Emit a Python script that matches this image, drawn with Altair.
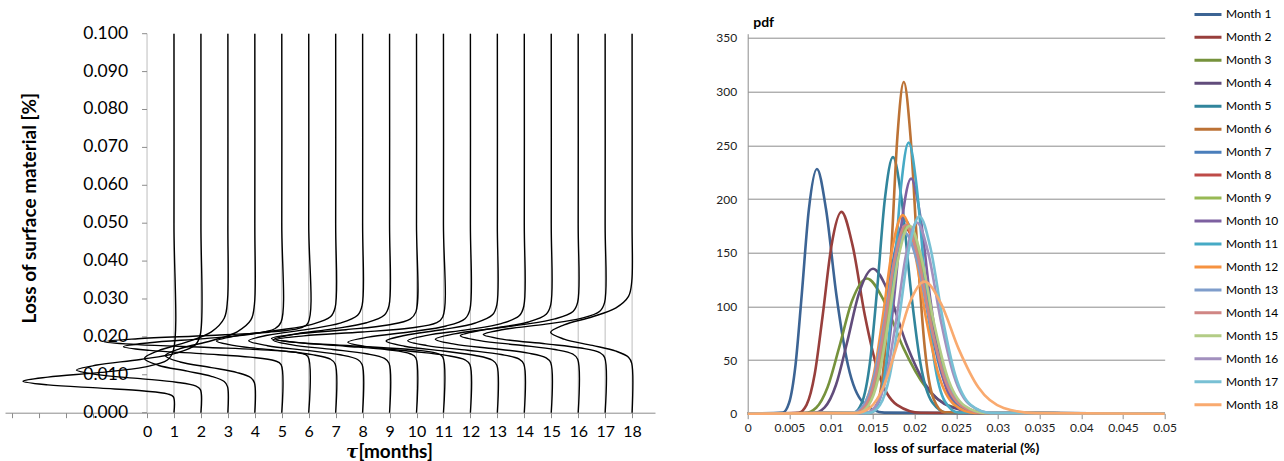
import altair as alt
import pandas as pd

month_names = ["Month 1", "Month 2", "Month 3", "Month 4", "Month 5", "Month 6",
               "Month 7", "Month 8", "Month 9", "Month 10", "Month 11", "Month 12",
               "Month 13", "Month 14", "Month 15", "Month 16", "Month 17", "Month 18"]
month_index = [1, 2, 3, 4, 5, 6, 7, 8, 9, 10, 11, 12, 13, 14, 15, 16, 17, 18]

colors = ["#3C6494", "#983F3C", "#76923C", "#614C7B", "#31859C", "#BC7235",
          "#4A7EBB", "#BE4B48", "#98B954", "#7D60A0", "#46AAC5", "#F69240",
          "#7F9DCB", "#D08684", "#B3CC86", "#A290BE", "#78C0D4", "#F9AA6F"]

# pdf curves: loss of surface material (%) and pdf value
loss_m1 = [0.0, 0.004206, 0.004959, 0.005729, 0.006482, 0.007335, 0.0083, 0.009392, 0.010627, 0.012026, 0.013891, 0.016380, 0.05, 0.1]
pdf_m1 = [0, 0.98, 10.0, 45.1, 111.0, 190.4, 228, 190.4, 111.0, 45.1, 10.0, 0.98, 0, 0]
loss_m2 = [0.0, 0.006084, 0.007060, 0.008042, 0.008991, 0.010053, 0.01124, 0.012567, 0.014051, 0.015710, 0.017894, 0.020766, 0.05, 0.1]
pdf_m2 = [0, 0.81, 8.25, 37.2, 91.5, 157.0, 188, 157.0, 91.5, 37.2, 8.25, 0.81, 0, 0]
loss_m3 = [0.0, 0.006874, 0.008210, 0.009590, 0.010955, 0.012517, 0.0143, 0.016338, 0.018666, 0.021324, 0.024909, 0.029751, 0.05, 0.1]
pdf_m3 = [0, 0.54, 5.53, 24.9, 61.3, 105.2, 126, 105.2, 61.3, 24.9, 5.53, 0.54, 0, 0]
loss_m4 = [0.0, 0.007897, 0.009231, 0.010581, 0.011895, 0.013371, 0.01503, 0.016895, 0.018992, 0.021350, 0.024472, 0.028605, 0.05, 0.1]
pdf_m4 = [0, 0.58, 5.93, 26.7, 65.7, 112.8, 135, 112.8, 65.7, 26.7, 5.93, 0.58, 0, 0]
loss_m5 = [0.0, 0.012690, 0.013703, 0.014655, 0.015525, 0.016444, 0.01742, 0.018453, 0.019547, 0.020705, 0.022144, 0.023912, 0.05, 0.1]
pdf_m5 = [0, 1.03, 10.5, 47.3, 116.3, 199.6, 239, 199.6, 116.3, 47.3, 10.5, 1.03, 0, 0]
loss_m6 = [0.0, 0.014858, 0.015715, 0.016504, 0.017211, 0.017951, 0.01872, 0.019523, 0.020360, 0.021234, 0.022299, 0.023585, 0.05, 0.1]
pdf_m6 = [0, 1.33, 13.6, 61.2, 150.4, 258.1, 309, 258.1, 150.4, 61.2, 13.6, 1.33, 0, 0]
loss_m7 = [0.0, 0.012867, 0.014124, 0.015324, 0.016434, 0.017624, 0.0189, 0.020268, 0.021735, 0.023309, 0.025290, 0.027760, 0.05, 0.1]
pdf_m7 = [0, 0.77, 7.90, 35.6, 87.6, 150.4, 180, 150.4, 87.6, 35.6, 7.90, 0.77, 0, 0]
loss_m8 = [0.0, 0.012745, 0.014041, 0.015282, 0.016431, 0.017670, 0.0190, 0.020431, 0.021970, 0.023623, 0.025711, 0.028325, 0.05, 0.1]
pdf_m8 = [0, 0.74, 7.55, 34.0, 83.7, 143.7, 172, 143.7, 83.7, 34.0, 7.55, 0.74, 0, 0]
loss_m9 = [0.0, 0.013029, 0.014314, 0.015540, 0.016675, 0.017892, 0.0192, 0.020602, 0.022107, 0.023722, 0.025757, 0.028295, 0.05, 0.1]
pdf_m9 = [0, 0.76, 7.73, 34.8, 85.7, 147.0, 176, 147.0, 85.7, 34.8, 7.73, 0.76, 0, 0]
loss_m10 = [0.0, 0.014443, 0.015555, 0.016593, 0.017540, 0.018542, 0.0196, 0.020719, 0.021901, 0.023152, 0.024700, 0.026597, 0.05, 0.1]
pdf_m10 = [0, 0.94, 9.61, 43.3, 106.6, 182.9, 219, 182.9, 106.6, 43.3, 9.61, 0.94, 0, 0]
loss_m11 = [0.0, 0.014743, 0.015739, 0.016664, 0.017499, 0.018377, 0.0193, 0.020269, 0.021286, 0.022353, 0.023668, 0.025264, 0.05, 0.1]
pdf_m11 = [0, 1.09, 11.1, 50.0, 122.9, 210.9, 252.5, 210.9, 122.9, 50.0, 11.1, 1.09, 0, 0]
loss_m12 = [0.0, 0.012719, 0.013946, 0.015116, 0.016199, 0.017358, 0.0186, 0.019932, 0.021357, 0.022885, 0.024809, 0.027203, 0.05, 0.1]
pdf_m12 = [0, 0.80, 8.12, 36.6, 90.1, 154.5, 185, 154.5, 90.1, 36.6, 8.12, 0.80, 0, 0]
loss_m13 = [0.0, 0.012525, 0.013839, 0.015099, 0.016273, 0.017537, 0.0189, 0.020369, 0.021950, 0.023657, 0.025814, 0.028522, 0.05, 0.1]
pdf_m13 = [0, 0.72, 7.38, 33.2, 81.8, 140.3, 168, 140.3, 81.8, 33.2, 7.38, 0.72, 0, 0]
loss_m14 = [0.0, 0.012850, 0.014128, 0.015350, 0.016481, 0.017697, 0.0190, 0.020400, 0.021903, 0.023518, 0.025551, 0.028092, 0.05, 0.1]
pdf_m14 = [0, 0.76, 7.73, 34.8, 85.7, 147.0, 176, 147.0, 85.7, 34.8, 7.73, 0.76, 0, 0]
loss_m15 = [0.0, 0.013194, 0.014488, 0.015722, 0.016862, 0.018087, 0.0194, 0.020808, 0.022320, 0.023940, 0.025979, 0.028524, 0.05, 0.1]
pdf_m15 = [0, 0.75, 7.68, 34.6, 85.2, 146.2, 175, 146.2, 85.2, 34.6, 7.68, 0.75, 0, 0]
loss_m16 = [0.0, 0.014129, 0.015428, 0.016660, 0.017795, 0.019005, 0.0203, 0.021682, 0.023158, 0.024736, 0.026713, 0.029165, 0.05, 0.1]
pdf_m16 = [0, 0.77, 7.81, 35.2, 86.7, 148.7, 178, 148.7, 86.7, 35.2, 7.81, 0.77, 0, 0]
loss_m17 = [0.0, 0.014583, 0.015856, 0.017061, 0.018167, 0.019345, 0.0206, 0.021935, 0.023358, 0.024872, 0.026764, 0.029102, 0.05, 0.1]
pdf_m17 = [0, 0.79, 8.08, 36.4, 89.6, 153.7, 184, 153.7, 89.6, 36.4, 8.08, 0.79, 0, 0]
loss_m18 = [0.0, 0.013008, 0.014643, 0.016241, 0.017751, 0.019398, 0.0212, 0.023169, 0.025319, 0.027673, 0.030691, 0.034550, 0.05, 0.1]
pdf_m18 = [0, 0.53, 5.40, 24.3, 59.9, 102.7, 123, 102.7, 59.9, 24.3, 5.40, 0.53, 0, 0]

loss_lists = [loss_m1, loss_m2, loss_m3, loss_m4, loss_m5, loss_m6, loss_m7, loss_m8, loss_m9,
              loss_m10, loss_m11, loss_m12, loss_m13, loss_m14, loss_m15, loss_m16, loss_m17, loss_m18]
pdf_lists = [pdf_m1, pdf_m2, pdf_m3, pdf_m4, pdf_m5, pdf_m6, pdf_m7, pdf_m8, pdf_m9,
             pdf_m10, pdf_m11, pdf_m12, pdf_m13, pdf_m14, pdf_m15, pdf_m16, pdf_m17, pdf_m18]

# left panel axis content
tau_ticks = [-5, -4, -3, -2, -1, 0, 1, 2, 3, 4, 5, 6, 7, 8, 9, 10, 11, 12, 13, 14, 15, 16, 17, 18]
tau_grid = [0, 1, 2, 3, 4, 5, 6, 7, 8, 9, 10, 11, 12, 13, 14, 15, 16, 17, 18]
loss_ticks = [0.0, 0.01, 0.02, 0.03, 0.04, 0.05, 0.06, 0.07, 0.08, 0.09, 0.1]
loss_labels = ["0.000", "0.010", "0.020", "0.030", "0.040", "0.050", "0.060", "0.070", "0.080", "0.090", "0.100"]
pdf_per_month = 40.7  # horizontal scale of the sideways pdf curves

# right panel axis content
x_ticks_r = [0, 0.005, 0.01, 0.015, 0.02, 0.025, 0.03, 0.035, 0.04, 0.045, 0.05]
y_ticks_r = [0, 50, 100, 150, 200, 250, 300, 350]

rows = []
for name, idx, lx, py in zip(month_names, month_index, loss_lists, pdf_lists):
    for order, (l, p) in enumerate(zip(lx, py)):
        rows.append({"month": name, "idx": idx, "loss": l, "pdf": p, "ord": order})
df = pd.DataFrame(rows)
df["tau"] = df["idx"] - df["pdf"] / pdf_per_month

FONT = "Lato"
GRAY = "#8C8C8C"

# ---------------- left panel ----------------
xs = alt.Scale(domain=[-5.27, 18.85], nice=False, zero=False)
ys = alt.Scale(domain=[0, 0.1], nice=False, zero=False)
x_axis_l = alt.Axis(values=tau_ticks, labelExpr="datum.value >= 0 ? datum.label : ''",
                    grid=False, domainColor=GRAY, tickColor=GRAY, tickSize=5,
                    labelFontSize=16, labelColor="black", labelFont=FONT, labelPadding=6,
                    labelFlush=False, labelOverlap=False,
                    title="[months]", titleFont=FONT, titleFontSize=19, titleFontWeight="bold",
                    titleColor="black", titleAlign="left", titleAnchor="start",
                    titleX=353, titleY=45, titleBaseline="alphabetic")
y_axis_l = alt.Axis(labels=False, ticks=False, domain=False, grid=False,
                    title="Loss of surface material [%]", titleFont=FONT, titleFontSize=19,
                    titleFontWeight="bold", titleColor="black", titleAngle=270,
                    titleX=24, titleY=174, titleAlign="center", titleBaseline="middle")

grid_df = pd.DataFrame({"m": tau_grid, "lo": 0.0, "hi": 0.1})
grid = alt.Chart(grid_df).mark_rule(color="#BDBDBD", strokeWidth=1).encode(
    x=alt.X("m:Q", scale=xs, axis=x_axis_l),
    y=alt.Y("lo:Q", scale=ys, axis=y_axis_l),
    y2="hi:Q",
)

ytick_df = pd.DataFrame({"zero": 0.0, "v": loss_ticks, "lab": loss_labels})
yticks = alt.Chart(ytick_df).mark_rule(color=GRAY, x2Offset=-5).encode(
    x=alt.X("zero:Q", scale=xs, axis=x_axis_l),
    x2="zero:Q",
    y=alt.Y("v:Q", scale=ys, axis=y_axis_l),
)
ylabels = alt.Chart(ytick_df).mark_text(align="right", baseline="middle", dx=-19, fontSize=17.5,
                                         font=FONT, color="black").encode(
    x=alt.X("zero:Q", scale=xs, axis=x_axis_l),
    y=alt.Y("v:Q", scale=ys, axis=y_axis_l),
    text="lab:N",
)

curves_l = alt.Chart(df).mark_line(color="black", strokeWidth=1.4, interpolate="catmull-rom").encode(
    x=alt.X("tau:Q", scale=xs, axis=x_axis_l),
    y=alt.Y("loss:Q", scale=ys, axis=y_axis_l),
    detail="month:N",
    order="ord:Q",
)

tau_df = pd.DataFrame({"t": ["τ"], "xpos": [7.61], "ypos": [0.0]})
tau_text = alt.Chart(tau_df).mark_text(dy=45, baseline="alphabetic", align="center",
                                       font="DejaVu Serif", fontStyle="italic", fontWeight="bold",
                                       fontSize=18, color="black").encode(
    x=alt.X("xpos:Q", scale=xs, axis=x_axis_l),
    y=alt.Y("ypos:Q", scale=ys, axis=y_axis_l),
    text="t:N",
)

left = alt.layer(grid, yticks, ylabels, curves_l, tau_text).properties(width=650, height=379)

# ---------------- right panel ----------------
df_r = df[df["loss"] <= 0.05]
right = alt.Chart(df_r).mark_line(strokeWidth=2.6, interpolate="monotone").encode(
    x=alt.X("loss:Q", scale=alt.Scale(domain=[0, 0.05], nice=False, zero=False),
            axis=alt.Axis(values=x_ticks_r, format="~g", grid=False, domainColor=GRAY,
                          tickColor=GRAY, tickSize=5, labelPadding=4, labelFontSize=12,
                          labelFont=FONT, labelColor="#222", labelFlush=False, labelOverlap=False,
                          title="loss of surface material (%)", titleFont=FONT, titleFontSize=14,
                          titleFontWeight="bold", titleColor="black", titleY=39,
                          titleBaseline="alphabetic")),
    y=alt.Y("pdf:Q", scale=alt.Scale(domain=[0, 354], nice=False, zero=False),
            axis=alt.Axis(values=y_ticks_r, grid=True, gridColor=GRAY, gridWidth=1,
                          domainColor=GRAY, ticks=False, labelPadding=11, labelFontSize=12,
                          labelFont=FONT, labelColor="#222",
                          title="pdf", titleAngle=0, titleAlign="left", titleBaseline="alphabetic",
                          titleX=5, titleY=-7, titleFont=FONT, titleFontSize=14,
                          titleFontWeight="bold", titleColor="black")),
    color=alt.Color("month:N", scale=alt.Scale(domain=month_names, range=colors),
                    legend=alt.Legend(orient="none", legendX=1188, legendY=-29.3, title=None,
                                      symbolType="stroke", symbolSize=729, symbolStrokeWidth=3,
                                      clipHeight=20, rowPadding=2.96, labelFontSize=12,
                                      labelFont=FONT, labelColor="black", labelOffset=3,
                                      padding=0)),
    order="ord:Q",
).properties(width=417, height=380)

chart = alt.hconcat(left, right, spacing=92.7, bounds="flush").properties(
    padding={"left": 5, "top": 3.7, "right": 0, "bottom": 0}
).configure_view(stroke=None)

chart.save("out.html", embed_options={"renderer": "svg", "actions": False})
